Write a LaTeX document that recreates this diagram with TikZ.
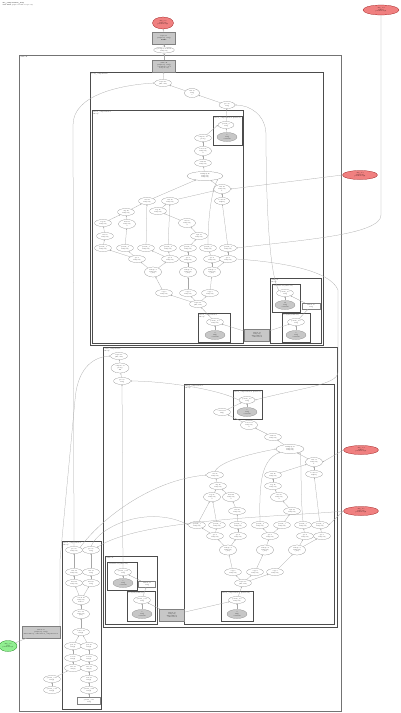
\documentclass[tikz,border=0pt]{standalone}
\usetikzlibrary{shapes.geometric,arrows.meta}
\newcommand\tf{\fontsize{1.4}{1.65}\selectfont}
\definecolor{parred}{RGB}{240,128,128}
\definecolor{pargreen}{RGB}{144,238,144}
\begin{document}
\begin{tikzpicture}[x=1pt,y=-1pt,
 op/.style={ellipse,draw=black!50,line width=0.2pt,fill=white,inner sep=0pt,minimum width=17pt,minimum height=7pt,align=center,font=\tf},
 op3/.style={op,minimum height=9pt},
 wide/.style={op,minimum width=36pt,minimum height=9pt},
 cst/.style={op,fill=black!22,minimum width=20pt,minimum height=9pt},
 par/.style={ellipse,draw=red!55!black,line width=0.2pt,fill=parred,inner sep=0pt,minimum width=21pt,minimum height=12pt,align=center,font=\tf},
 grn/.style={par,draw=green!45!black,fill=pargreen,minimum width=18pt,minimum height=11pt},
 gbox/.style={rectangle,draw=black!50,line width=0.2pt,fill=black!22,inner sep=0pt,minimum width=23pt,minimum height=12pt,align=center,font=\tf},
 wbox/.style={rectangle,draw=black!50,line width=0.2pt,fill=white,inner sep=0pt,minimum width=18pt,minimum height=6pt,align=center,font=\tf},
 clu/.style={draw=black!70,line width=0.5pt},
 sclu/.style={draw=black!70,line width=0.4pt},
 cl/.style={anchor=north west,font=\tf,inner sep=0.4pt,align=left},
 e/.style={draw=black!35,line width=0.25pt,-{Stealth[length=1.4pt,width=1.1pt]}}]
\useasboundingbox (0,0) rectangle (400,713);
\fill[white] (0,0) rectangle (400,713);
% title
\node[cl] (title) at (2,2) {\textbf{xla\_computation\_loop}\\XLA HLO graph of while loop body};
% ---------- clusters ----------
\draw[clu,draw=black!55,line width=0.8pt] (19,55) rectangle (341,711);
\node[cl] (lO) at (20,56) {while.42};
\draw[clu] (90,72) rectangle (323,345);
\node[cl] (lA) at (91,73) {body\_computation};
\draw[clu] (92,110) rectangle (243,343);
\node[cl] (lB) at (93,111) {fused\_computation.3\\kLoop};
\draw[sclu] (213,116) rectangle (242,145);
\node[cl] (lBs1) at (214,117) {fused\_computation.2 (fusion.8)};
\draw[sclu] (198,313) rectangle (230,342);
\node[cl] (lBs2) at (199,314) {fused\_computation.1\\kLoop};
\draw[clu] (270,278) rectangle (321,343);
\node[cl] (lG) at (271,279) {while.17\\kLoop};
\draw[sclu] (272,284) rectangle (300,312);
\node[cl] (lG1) at (273,285) {condition.18 (while.17)};
\draw[sclu] (282,313) rectangle (310,342);
\node[cl] (lG2) at (283,314) {body.21 (while.17)};
\draw[clu] (103,347) rectangle (337,627);
\node[cl] (lC) at (104,348) {cond\_computation\\kLoop};
\draw[clu] (184,384) rectangle (334,624);
\node[cl] (lD) at (185,385) {fused\_computation.5\\kLoop};
\draw[sclu] (233,390) rectangle (262,419);
\node[cl] (lDs1) at (234,391) {fused\_computation.4 (fusion.9)};
\draw[sclu] (221,591) rectangle (253,621);
\node[cl] (lDs2) at (222,592) {fused\_computation.6 (fusion.12)};
\draw[clu] (105,556) rectangle (157,624);
\node[cl] (lE) at (106,557) {while.30};
\draw[sclu] (107,562) rectangle (137,590);
\node[cl] (lE1) at (108,563) {condition.31 (while.30)};
\draw[sclu] (127,591) rectangle (155,621);
\node[cl] (lE2) at (128,592) {body.34 (while.30)};
\draw[clu] (62,541) rectangle (101,709);
\node[cl] (lF) at (63,542) {fused\_computation.7\\kLoop};
% ---------- top ----------
\node[par] (p0) at (163,23) {Arg\_0.1\\f32[8,16]\\parameter(0)};
\node[gbox] (g0) at (164,38) {tuple.51\\(f32[8,16], s32[])\\ROOT};
\node[op,minimum width=18pt,minimum height=6pt] (e0) at (164,50) {get-tuple-element\\f32[8,16]};
\node[par,minimum width=36pt,minimum height=10pt] (pR) at (381,10) {Arg\_1.2\\f32[16]\\parameter(1)};
\node[gbox] (g1) at (164,66) {while.42\\(f32[8,16], s32[])\\condition=cond\\body=body};
% ---------- A ----------
\node[op] (a1) at (163,83) {tuple.40\\(f32, s32)};
\node[op3,minimum width=15pt] (a2) at (192,93) {add.39\\s32[]\\1};
\node[op,minimum width=16pt] (a3) at (227,105) {gte.37\\s32[]};
% ---------- B ----------
\node[op,minimum width=16pt] (bs1) at (226,125) {param\_0\\s32[]};
\node[cst] (bs1c) at (227,137) {1\\s32[]\\constant};
\node[op] (b1) at (203,138) {compare.30\\pred[]};
\node[op3] (b2) at (203,151) {select.29\\f32[8,16]\\x};
\node[op] (b3) at (203,163) {tanh.28\\f32[8,16]};
\node[wide] (b4) at (205,176) {multiply.27\\f32[8,16]\\f32[8,16]};
\node[op3] (b5) at (222,189) {add.26\\f32[8,16]\\b};
\node[op,minimum width=15pt] (b6) at (222,201) {bcast.25\\f32[16]};
\node[op] (b7) at (147,201) {dot.24\\f32[8,16]};
\node[op] (b8) at (170,201) {sub.23\\f32[8,16]};
\node[op] (b9) at (126,212) {exp.22\\f32[8,16]};
\node[op] (b10) at (158,211) {neg.21\\f32[8,16]};
\node[op] (b11) at (103,223) {log.20\\f32[8,16]};
\node[op3] (b12) at (127,224) {max.19\\f32[8,16]\\0};
\node[op3] (b13) at (187,223) {div.18\\f32[8,16]\\2};
\node[op] (b14) at (105,236) {abs.17\\f32[8,16]};
\node[op] (b15) at (199,236) {sqrt.16\\f32[8,16]};
\foreach \n/\x in {1/103,2/125,3/146,4/168,5/188,6/208,7/228}
  \node[op] (r\n) at (\x,248) {param\_\n\\f32[8,16]};
\foreach \n/\x in {1/137,2/170,3/188,4/212,5/228}
  \node[op] (s\n) at (\x,259) {gte.\n\\f32[8,16]};
\foreach \n/\x in {1/153,2/188,3/212}
  \node[op3,minimum height=10pt] (t\n) at (\x,272) {reshape.\n\\f32[8,16]\\\{1,0\}};
\foreach \n/\x in {1/164,2/188,3/210}
  \node[op] (u\n) at (\x,293) {copy.\n\\f32[8,16]};
\node[op] (broot) at (198,304) {tuple.12\\(f32, f32)};
\node[op] (bs2) at (215,322) {param\_0.3\\f32[8,16]};
\node[cst] (bs2c) at (215,335) {0\\f32[]\\constant};
% ---------- G ----------
\node[op] (G1e) at (285,293) {param\_0.9\\s32[]};
\node[cst] (G1c) at (285,305) {10\\s32[]\\constant};
\node[wbox] (Gbox) at (311,306) {fusion.19\\s32[]};
\node[op] (G2e) at (296,322) {param\_0.8\\s32[]};
\node[cst] (G2c) at (296,335) {1\\s32[]\\constant};
\node[gbox,minimum width=25pt] (gb2) at (257,335) {fusion.13\\f32[8,16]\\kind=kLoop\\calls=fused};
\node[par,minimum width=35pt,minimum height=9pt] (red2) at (360,175) {Arg\_2.3\\f32[16,16]\\parameter(2)};
% ---------- C ----------
\node[op] (c0) at (119,356) {tuple.60\\(f32, s32)};
\node[op3,minimum width=18pt,minimum height=10pt] (c1) at (120,368) {compare.59\\pred[]\\LT};
\node[op] (c2) at (122,381) {gte.58\\s32[]};
% ---------- D ----------
\node[op,minimum width=16pt] (ds1e) at (247,400) {param\_0.5\\s32[]};
\node[cst] (ds1c) at (247,412) {1\\s32[]\\constant};
\node[op] (d1) at (222,412) {convert.55\\f32[]};
\node[op3] (d2) at (249,425) {select.54\\f32[8,16]\\x};
\node[op] (d3) at (273,437) {tanh.53\\f32[8,16]};
\node[wide,minimum width=28pt] (d4) at (290,449) {multiply.52\\f32[8,16]\\f32[8,16]};
\node[op3] (d5) at (314,462) {add.51\\f32[8,16]\\b};
\node[op] (d6) at (314,474) {bcast.50\\f32[16]};
\node[op] (d7) at (215,475) {dot.49\\f32[8,16]};
\node[op] (d8) at (273,475) {sub.48\\f32[8,16]};
\node[op] (d9) at (218,486) {exp.47\\f32[8,16]};
\node[op] (d10) at (273,486) {neg.46\\f32[8,16]};
\node[op3] (d11) at (212,497) {log.45\\f32[8,16]\\0};
\node[op3] (d12) at (231,497) {max.44\\f32[8,16]\\0};
\node[op3] (d13) at (279,497) {div.43\\f32[8,16]\\2};
\node[op] (d14) at (237,511) {abs.42\\f32[8,16]};
\node[op] (d15) at (292,511) {sqrt.41\\f32[8,16]};
\foreach \n/\x in {1/197,2/217,3/238,4/260,5/282,6/303,7/320}
  \node[op] (q\n) at (\x,525) {param\_\n\\f32[8,16]};
\foreach \n/\x in {1/215,2/238,3/270,4/305,5/322}
  \node[op] (w\n) at (\x,536) {gte.\n\\f32[8,16]};
\foreach \n/\x in {1/228,2/265,3/297}
  \node[op3,minimum height=10pt] (x\n) at (\x,550) {reshape.\n\\f32[8,16]\\\{1,0\}};
\foreach \n/\x in {1/233,2/255,3/275}
  \node[op] (y\n) at (\x,572) {copy.\n\\f32[8,16]};
\node[op] (droot) at (243,583) {tuple.30\\(f32, f32)};
\node[op] (ds2e) at (237,600) {param\_0.7\\f32[8,16]};
\node[cst] (ds2c) at (237,614) {0\\f32[]\\constant};
\node[par,minimum width=35pt,minimum height=9pt] (red3) at (361,450) {Arg\_3.4\\f32[16]\\parameter(3)};
\node[par,minimum width=35pt,minimum height=9pt] (red4) at (361,511) {Arg\_4.5\\f32[8,16]\\parameter(4)};
% ---------- E ----------
\node[op] (E1e) at (123,572) {param\_0.10\\s32[]};
\node[cst] (E1c) at (123,583) {5\\s32[]\\constant};
\node[wbox,minimum width=17pt] (Ebox) at (147,584) {fusion.33\\s32[]};
\node[op] (E2e) at (142,600) {param\_0.11\\s32[]};
\node[cst] (E2c) at (142,614) {1\\s32[]\\constant};
\node[gbox,minimum width=25pt] (gb3) at (172,615) {fusion.35\\f32[8,16]\\kind=kLoop\\calls=fused};
% ---------- F ----------
\node[op] (f1) at (74,550) {gte.70\\f32[8,16]};
\node[op] (f2) at (91,550) {gte.71\\s32[]};
\node[op] (f3) at (74,572) {add.72\\f32[8,16]};
\node[op] (f4) at (91,572) {add.73\\s32[]};
\node[op] (f5) at (74,583) {mul.74\\f32[8,16]};
\node[op] (f6) at (91,583) {mul.75\\s32[]};
\node[op3] (f7) at (81,600) {concat.76\\f32[8,16]\\dim=0};
\node[op3] (f8) at (81,614) {slice.77\\f32[8,16]\\{}[0:8]};
\node[op] (f9) at (81,632) {reduce.78\\f32[8]};
\node[op] (f10) at (73,646) {pad.79\\f32[8]};
\node[op] (f11) at (89,646) {pad.80\\f32[8]};
\node[op] (f12) at (73,658) {rev.81\\f32[8]};
\node[op] (f13) at (89,658) {rev.82\\f32[8]};
\node[op] (f14) at (73,668) {iota.83\\s32[8]};
\node[op] (f15) at (89,668) {iota.84\\s32[8]};
\node[op] (f16) at (52,679) {param\_0.85\\f32[8]};
\node[op] (f17) at (89,679) {sort.86\\f32[8]};
\node[op] (f18) at (52,690) {param\_1.87\\f32[8]};
\node[op] (f19) at (89,690) {param\_2.88\\f32[8]};
\node[wbox,minimum width=23pt,minimum height=7pt] (fbox) at (89,701) {param\_3.89\\s32[]};
\node[gbox,minimum width=38pt] (gbl) at (41,632) {fusion.90\\(f32[8,16], s32[])\\kind=kLoop, calls=fused\_computation.7};
\node[grn] (green) at (8,646) {Arg\_5.6\\s32[]\\parameter(5)};
% ---------- edges: top ----------
\draw[e] (g0) -- (p0);
\draw[e] (e0) -- (g0);
\draw[e] (g1) -- (e0);
\draw[e] (a1) -- (g1);
\draw[e] (a2) -- (a1);
\draw[e] (a3) -- (a2);
\draw[e] (bs1) -- (a3);
\draw[e] (f1.north) -- (73,125) .. controls (73,95) and (120,85) .. (a1.west);
\draw[e] (G1e.north west) .. controls (266,270) and (266,150) .. (266,135) .. controls (266,115) and (250,105) .. (a3.east);
% ---------- edges: B ----------
\draw[e] (bs1c) -- (bs1);
\draw[e] (b1) -- (bs1.west);
\draw[e] (b2) -- (b1);
\draw[e] (b3) -- (b2);
\draw[e] (b4) -- (b3);
\draw[e] (b5) -- (b4);
\draw[e] (b6) -- (b5);
\draw[e] (b7) -- (b4);
\draw[e] (b8) -- (b5);
\draw[e] (b9) -- (b7);
\draw[e] (b10) -- (b8);
\draw[e] (b11) -- (b9);
\draw[e] (b12) -- (b9);
\draw[e] (b13) -- (b10);
\draw[e] (b14) -- (b11);
\draw[e] (b15) -- (b13);
\draw[e] (r1) -- (b14);
\draw[e] (r2) -- (b12);
\draw[e] (r3) -- (b7);
\draw[e] (r4) -- (b8);
\draw[e] (r5) -- (b15);
\draw[e] (r6.north) .. controls (208,215) and (212,190) .. (b4.south east);
\draw[e] (r7) -- (b6);
\draw[e] (s1) -- (r1);
\draw[e] (s1) -- (r2);
\draw[e] (s2) -- (r3);
\draw[e] (s2) -- (r4);
\draw[e] (s3) -- (r5);
\draw[e] (s4) -- (r6);
\draw[e] (s5) -- (r7);
\draw[e] (t1) -- (s1);
\draw[e] (t1) -- (s2);
\draw[e] (t2) -- (s3);
\draw[e] (t3) -- (s4);
\draw[e] (t3) -- (s5);
\draw[e] (u1) -- (t1);
\draw[e] (u2) -- (t2);
\draw[e] (u3) -- (t3);
\draw[e] (broot) -- (u1);
\draw[e] (broot) -- (u2);
\draw[e] (broot) -- (u3);
\draw[e] (bs2) -- (broot);
\draw[e] (bs2c) -- (bs2);
\draw[e] (pR.south) -- (381,215) .. controls (381,235) and (300,240) .. (r7.east);
\draw[e] (red2.west) -- (b5.east);
% ---------- edges: G ----------
\draw[e] (G1c) -- (G1e);
\draw[e] (G2c) -- (G2e);
\draw[e] (Gbox) -- (G1e);
\draw[e] (G2e) -- (Gbox);
\draw[e] (gb2) -- (G2e);
\draw[e] (gb2) -- (bs2);
\draw[e] (s5.east) .. controls (280,262) and (330,270) .. (338,290) -- (338,372) .. controls (338,385) and (300,388) .. (ds1e.east);
% ---------- edges: C ----------
\draw[e] (c1) -- (c0);
\draw[e] (c2) -- (c1);
\draw[e] (ds1e.west) .. controls (215,388) and (160,381) .. (c2.east);
\draw[e] (E1e) -- (c2);
\draw[e] (gbl.north east) -- (60,560) -- (75,400) .. controls (77,372) and (90,357) .. (c0.west);
% ---------- edges: D ----------
\draw[e] (ds1c) -- (ds1e);
\draw[e] (d1) -- (ds1e);
\draw[e] (d2) -- (d1);
\draw[e] (d3) -- (d2);
\draw[e] (d4) -- (d3);
\draw[e] (d5) -- (d4);
\draw[e] (d6) -- (d5);
\draw[e] (d7.north) .. controls (220,460) and (260,452) .. (d4.west);
\draw[e] (d8) -- (d5);
\draw[e] (d9) -- (d7);
\draw[e] (d10) -- (d8);
\draw[e] (d11) -- (d9);
\draw[e] (d12) -- (d9);
\draw[e] (d13) -- (d10);
\draw[e] (d14) -- (d12);
\draw[e] (d15) -- (d13);
\draw[e] (q1) -- (d11);
\draw[e] (q2) -- (d11);
\draw[e] (q3) -- (d14);
\draw[e] (q4.north) .. controls (259,480) and (262,460) .. (d4.south west);
\draw[e] (q5) -- (d15);
\draw[e] (q6.north) .. controls (300,490) and (302,470) .. (d4.south east);
\draw[e] (q7) -- (d6);
\draw[e] (w1) -- (q1);
\draw[e] (w1) -- (q2);
\draw[e] (w2) -- (q3);
\draw[e] (w3) -- (q4);
\draw[e] (w3) -- (q5);
\draw[e] (w4) -- (q6);
\draw[e] (w5) -- (q7);
\draw[e] (x1) -- (w1);
\draw[e] (x1) -- (w2);
\draw[e] (x2) -- (w3);
\draw[e] (x3) -- (w4);
\draw[e] (x3) -- (w5);
\draw[e] (y1) -- (x1);
\draw[e] (y2) -- (x2);
\draw[e] (y3) -- (x3);
\draw[e] (droot) -- (y1);
\draw[e] (droot) -- (y2);
\draw[e] (droot) -- (y3);
\draw[e] (ds2e) -- (droot);
\draw[e] (ds2c) -- (ds2e);
\draw[e] (red3.west) -- (d5.east);
\draw[e] (red4.west) -- (q7.east);
% ---------- edges: E ----------
\draw[e] (E1c) -- (E1e);
\draw[e] (E2c) -- (E2e);
\draw[e] (Ebox) -- (E1e);
\draw[e] (E2e) -- (Ebox);
\draw[e] (gb3) -- (E2e);
\draw[e] (gb3) -- (ds2e);
% ---------- edges: F ----------
\draw[e] (f3) -- (f1);
\draw[e] (f4) -- (f2);
\draw[e] (f5) -- (f3);
\draw[e] (f6) -- (f4);
\draw[e] (f7) -- (f5);
\draw[e] (f7) -- (f6);
\draw[e] (f8) -- (f7);
\draw[e] (f9) -- (f8);
\draw[e] (f10) -- (f9);
\draw[e] (f11) -- (f9);
\draw[e] (f12) -- (f10);
\draw[e] (f13) -- (f11);
\draw[e] (f14) -- (f12);
\draw[e] (f15) -- (f13);
\draw[e] (f16) -- (f14);
\draw[e] (f17) -- (f15);
\draw[e] (f18) -- (f16);
\draw[e] (f19) -- (f17);
\draw[e] (fbox) -- (f19);
\draw[e] (f1.north east) .. controls (100,520) and (150,480) .. (d7.west);
\draw[e] (f2.north) .. controls (100,525) and (150,505) .. (q1.west);
\draw[e] (red4.west) .. controls (300,516) and (140,518) .. (f2.north east);
\draw[e] (green) -- (gbl);
\end{tikzpicture}
\end{document}
